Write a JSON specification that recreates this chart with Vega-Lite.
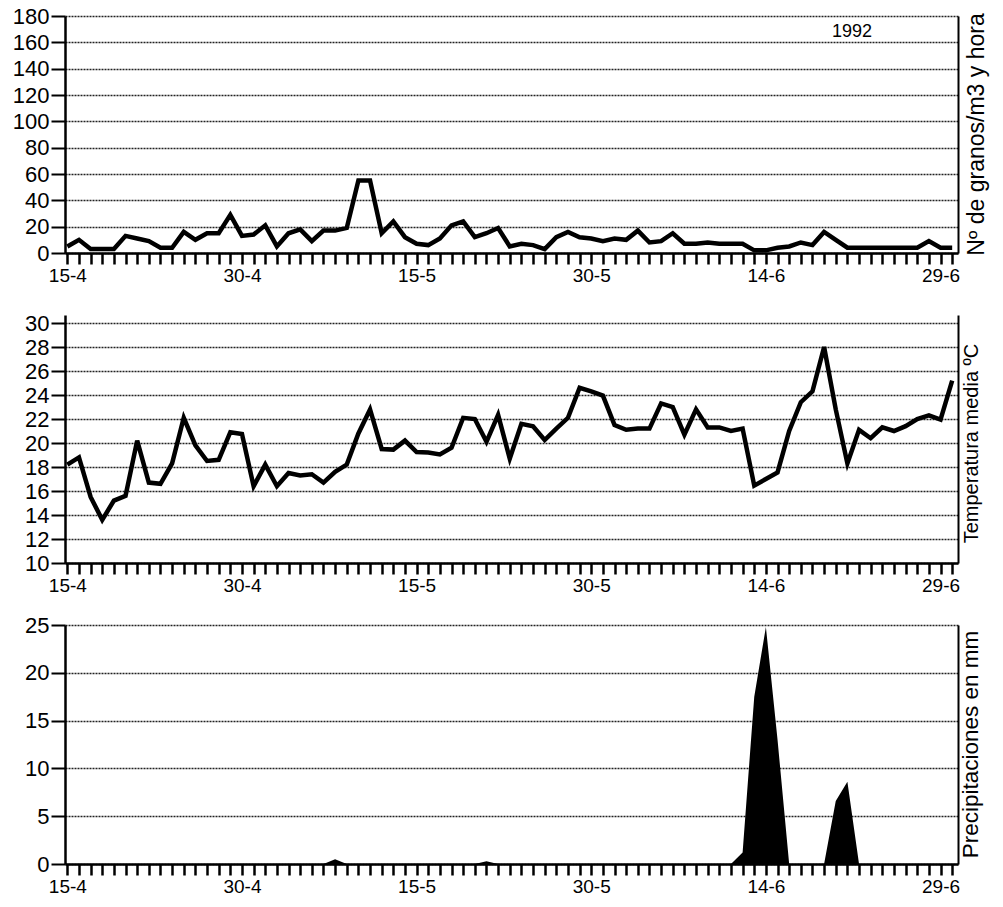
{
  "$schema": "https://vega.github.io/schema/vega-lite/v6.json",
  "background": "white",
  "padding": {"left": 12, "top": 5, "right": 5, "bottom": 5},
  "config": {
    "font": "Liberation Sans",
    "view": {"stroke": null},
    "title": {"font": "Liberation Sans", "fontWeight": "normal", "color": "black"},
    "axisX": {"title": null, "grid": false, "domainColor": "black", "domainWidth": 2.5, "tickColor": "black", "tickWidth": 2.5, "tickSize": 11, "labelFontSize": 19, "labelColor": "black", "labelPadding": 2, "labelOverlap": false, "labelBound": false, "labelFlush": false},
    "axisY": {"grid": true, "gridColor": "#222222", "gridDash": [2, 1], "gridWidth": 1.6, "domainColor": "black", "domainWidth": 2.5, "tickColor": "black", "tickWidth": 2, "tickSize": 14, "labelFontSize": 22, "labelColor": "black", "labelPadding": 2, "labelOverlap": false, "titleColor": "black", "titleFontWeight": "normal", "titleAngle": -90, "titleAlign": "center", "titleBaseline": "middle"}
  },
  "datasets": {
    "series": [
      {"day": 0, "pollen": 5, "temp": 18.2, "rain": 0},
      {"day": 1, "pollen": 10, "temp": 18.8, "rain": 0},
      {"day": 2, "pollen": 3, "temp": 15.5, "rain": 0},
      {"day": 3, "pollen": 3, "temp": 13.6, "rain": 0},
      {"day": 4, "pollen": 3, "temp": 15.2, "rain": 0},
      {"day": 5, "pollen": 13, "temp": 15.6, "rain": 0},
      {"day": 6, "pollen": 11, "temp": 20.2, "rain": 0},
      {"day": 7, "pollen": 9, "temp": 16.7, "rain": 0},
      {"day": 8, "pollen": 4, "temp": 16.6, "rain": 0},
      {"day": 9, "pollen": 4, "temp": 18.3, "rain": 0},
      {"day": 10, "pollen": 16, "temp": 22.1, "rain": 0},
      {"day": 11, "pollen": 10, "temp": 19.8, "rain": 0},
      {"day": 12, "pollen": 15, "temp": 18.5, "rain": 0},
      {"day": 13, "pollen": 15, "temp": 18.6, "rain": 0},
      {"day": 14, "pollen": 29, "temp": 20.9, "rain": 0},
      {"day": 15, "pollen": 13, "temp": 20.75, "rain": 0},
      {"day": 16, "pollen": 14, "temp": 16.4, "rain": 0},
      {"day": 17, "pollen": 21, "temp": 18.2, "rain": 0},
      {"day": 18, "pollen": 5, "temp": 16.4, "rain": 0},
      {"day": 19, "pollen": 15, "temp": 17.5, "rain": 0},
      {"day": 20, "pollen": 18, "temp": 17.3, "rain": 0},
      {"day": 21, "pollen": 9, "temp": 17.4, "rain": 0},
      {"day": 22, "pollen": 17, "temp": 16.7, "rain": 0},
      {"day": 23, "pollen": 17, "temp": 17.6, "rain": 0.5},
      {"day": 24, "pollen": 19, "temp": 18.2, "rain": 0},
      {"day": 25, "pollen": 55, "temp": 20.8, "rain": 0},
      {"day": 26, "pollen": 55, "temp": 22.8, "rain": 0},
      {"day": 27, "pollen": 15, "temp": 19.5, "rain": 0},
      {"day": 28, "pollen": 24, "temp": 19.45, "rain": 0},
      {"day": 29, "pollen": 12, "temp": 20.2, "rain": 0},
      {"day": 30, "pollen": 7, "temp": 19.25, "rain": 0},
      {"day": 31, "pollen": 6, "temp": 19.2, "rain": 0},
      {"day": 32, "pollen": 11, "temp": 19.05, "rain": 0},
      {"day": 33, "pollen": 21, "temp": 19.6, "rain": 0},
      {"day": 34, "pollen": 24, "temp": 22.1, "rain": 0},
      {"day": 35, "pollen": 12, "temp": 22.0, "rain": 0},
      {"day": 36, "pollen": 15, "temp": 20.1, "rain": 0.3},
      {"day": 37, "pollen": 19, "temp": 22.35, "rain": 0},
      {"day": 38, "pollen": 5, "temp": 18.7, "rain": 0},
      {"day": 39, "pollen": 7, "temp": 21.6, "rain": 0},
      {"day": 40, "pollen": 6, "temp": 21.4, "rain": 0},
      {"day": 41, "pollen": 3, "temp": 20.25, "rain": 0},
      {"day": 42, "pollen": 12, "temp": 21.2, "rain": 0},
      {"day": 43, "pollen": 16, "temp": 22.1, "rain": 0},
      {"day": 44, "pollen": 12, "temp": 24.6, "rain": 0},
      {"day": 45, "pollen": 11, "temp": 24.3, "rain": 0},
      {"day": 46, "pollen": 9, "temp": 23.95, "rain": 0},
      {"day": 47, "pollen": 11, "temp": 21.5, "rain": 0},
      {"day": 48, "pollen": 10, "temp": 21.1, "rain": 0},
      {"day": 49, "pollen": 17, "temp": 21.2, "rain": 0},
      {"day": 50, "pollen": 8, "temp": 21.2, "rain": 0},
      {"day": 51, "pollen": 9, "temp": 23.3, "rain": 0},
      {"day": 52, "pollen": 15, "temp": 23.0, "rain": 0},
      {"day": 53, "pollen": 7, "temp": 20.7, "rain": 0},
      {"day": 54, "pollen": 7, "temp": 22.8, "rain": 0},
      {"day": 55, "pollen": 8, "temp": 21.3, "rain": 0},
      {"day": 56, "pollen": 7, "temp": 21.3, "rain": 0},
      {"day": 57, "pollen": 7, "temp": 21.0, "rain": 0},
      {"day": 58, "pollen": 7, "temp": 21.2, "rain": 1.2},
      {"day": 59, "pollen": 2, "temp": 16.45, "rain": 17.5},
      {"day": 60, "pollen": 2, "temp": 17.0, "rain": 24.8},
      {"day": 61, "pollen": 4, "temp": 17.55, "rain": 13},
      {"day": 62, "pollen": 5, "temp": 21.0, "rain": 0},
      {"day": 63, "pollen": 8, "temp": 23.4, "rain": 0},
      {"day": 64, "pollen": 6, "temp": 24.3, "rain": 0},
      {"day": 65, "pollen": 16, "temp": 28.0, "rain": 0},
      {"day": 66, "pollen": 10, "temp": 22.8, "rain": 6.6},
      {"day": 67, "pollen": 4, "temp": 18.3, "rain": 8.6},
      {"day": 68, "pollen": 4, "temp": 21.1, "rain": 0},
      {"day": 69, "pollen": 4, "temp": 20.4, "rain": 0},
      {"day": 70, "pollen": 4, "temp": 21.3, "rain": 0},
      {"day": 71, "pollen": 4, "temp": 21.0, "rain": 0},
      {"day": 72, "pollen": 4, "temp": 21.4, "rain": 0},
      {"day": 73, "pollen": 4, "temp": 22.0, "rain": 0},
      {"day": 74, "pollen": 9, "temp": 22.3, "rain": 0},
      {"day": 75, "pollen": 4, "temp": 21.95, "rain": 0},
      {"day": 76, "pollen": 4, "temp": 25.2, "rain": 0}
    ]
  },
  "vconcat": [
    {
      "width": 893,
      "height": 237,
      "data": {"name": "series"},
      "title": {"text": "1992", "orient": "top", "anchor": "end", "frame": "group", "offset": -36, "dx": -86, "fontSize": 18},
      "layer": [
        {
          "mark": {"type": "line", "color": "black", "strokeWidth": 4.5, "strokeJoin": "miter"},
          "encoding": {
            "x": {"field": "day", "type": "quantitative", "scale": {"domain": [-0.2, 76.5], "nice": false, "zero": false},
              "axis": {"values": [0,1,2,3,4,5,6,7,8,9,10,11,12,13,14,15,16,17,18,19,20,21,22,23,24,25,26,27,28,29,30,31,32,33,34,35,36,37,38,39,40,41,42,43,44,45,46,47,48,49,50,51,52,53,54,55,56,57,58,59,60,61,62,63,64,65,66,67,68,69,70,71,72,73,74,75,76],
                "labelOverlap": false,
                "labelExpr": "datum.value==0?'15-4':datum.value==15?'30-4':datum.value==30?'15-5':datum.value==45?'30-5':datum.value==60?'14-6':datum.value==75?'29-6':''"}},
            "y": {"field": "pollen", "type": "quantitative", "scale": {"domain": [0, 180], "nice": false},
              "axis": {"values": [0,20,40,60,80,100,120,140,160,180], "labelOverlap": false, "title": "Nº de granos/m3 y hora", "titleX": 911, "titleY": 118, "titleFontSize": 23}}
          }
        },
        {
          "mark": {"type": "rule", "opacity": 0},
          "encoding": {
            "y": {"field": "pollen", "type": "quantitative",
              "axis": {"orient": "right", "labels": false, "ticks": false, "grid": false, "title": null, "domain": true, "domainWidth": 2}}
          }
        }
      ],
      "resolve": {"axis": {"y": "independent"}}
    },
    {
      "width": 893,
      "height": 248,
      "data": {"name": "series"},
      "layer": [
        {
          "mark": {"type": "line", "color": "black", "strokeWidth": 4.5, "strokeJoin": "miter"},
          "encoding": {
            "x": {"field": "day", "type": "quantitative", "scale": {"domain": [-0.2, 76.5], "nice": false, "zero": false},
              "axis": {"values": [0,1,2,3,4,5,6,7,8,9,10,11,12,13,14,15,16,17,18,19,20,21,22,23,24,25,26,27,28,29,30,31,32,33,34,35,36,37,38,39,40,41,42,43,44,45,46,47,48,49,50,51,52,53,54,55,56,57,58,59,60,61,62,63,64,65,66,67,68,69,70,71,72,73,74,75,76],
                "labelOverlap": false,
                "labelExpr": "datum.value==0?'15-4':datum.value==15?'30-4':datum.value==30?'15-5':datum.value==45?'30-5':datum.value==60?'14-6':datum.value==75?'29-6':''"}},
            "y": {"field": "temp", "type": "quantitative", "scale": {"domain": [10, 30.667], "nice": false, "zero": false},
              "axis": {"values": [10,12,14,16,18,20,22,24,26,28,30], "labelOverlap": false, "title": "Temperatura media ºC", "titleX": 906, "titleY": 128, "titleFontSize": 20}}
          }
        },
        {
          "mark": {"type": "rule", "opacity": 0},
          "encoding": {
            "y": {"field": "temp", "type": "quantitative",
              "axis": {"orient": "right", "labels": false, "ticks": false, "grid": false, "title": null, "domain": true, "domainWidth": 2}}
          }
        }
      ],
      "resolve": {"axis": {"y": "independent"}}
    },
    {
      "width": 893,
      "height": 239,
      "data": {"name": "series"},
      "layer": [
        {
          "mark": {"type": "area", "color": "black", "opacity": 1},
          "encoding": {
            "x": {"field": "day", "type": "quantitative", "scale": {"domain": [-0.2, 76.5], "nice": false, "zero": false},
              "axis": {"values": [0,1,2,3,4,5,6,7,8,9,10,11,12,13,14,15,16,17,18,19,20,21,22,23,24,25,26,27,28,29,30,31,32,33,34,35,36,37,38,39,40,41,42,43,44,45,46,47,48,49,50,51,52,53,54,55,56,57,58,59,60,61,62,63,64,65,66,67,68,69,70,71,72,73,74,75,76],
                "labelOverlap": false,
                "labelExpr": "datum.value==0?'15-4':datum.value==15?'30-4':datum.value==30?'15-5':datum.value==45?'30-5':datum.value==60?'14-6':datum.value==75?'29-6':''"}},
            "y": {"field": "rain", "type": "quantitative", "scale": {"domain": [0, 25], "nice": false},
              "axis": {"values": [0,5,10,15,20,25], "labelOverlap": false, "title": "Precipitaciones en mm", "titleX": 905, "titleY": 119, "titleFontSize": 22.5}}
          }
        },
        {
          "mark": {"type": "rule", "opacity": 0},
          "encoding": {
            "y": {"field": "rain", "type": "quantitative",
              "axis": {"orient": "right", "labels": false, "ticks": false, "grid": false, "title": null, "domain": true, "domainWidth": 2}}
          }
        }
      ],
      "resolve": {"axis": {"y": "independent"}}
    }
  ],
  "spacing": 62,
  "bounds": "flush"
}
